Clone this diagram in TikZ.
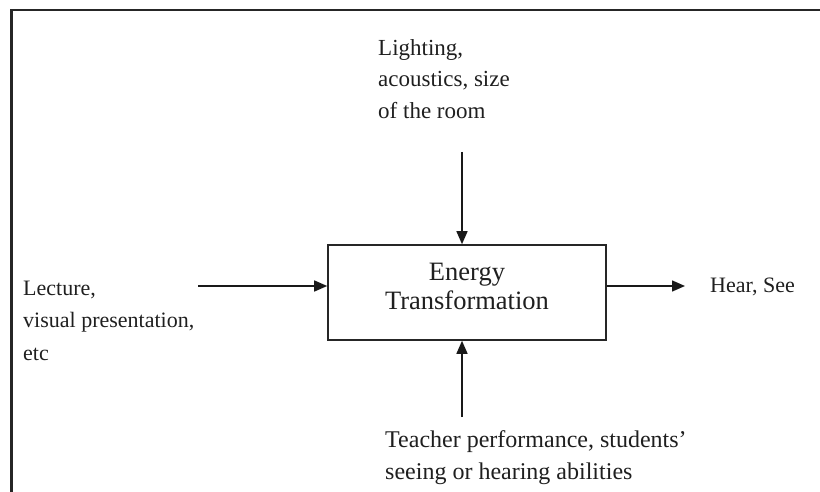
\documentclass[tikz,border=0pt]{standalone}
\usepackage{fontspec}
\setmainfont{Liberation Serif}
\usetikzlibrary{arrows.meta}
\begin{document}
\begin{tikzpicture}[x=1pt,y=-1pt,
  txt/.style={font=\fontsize{#1}{32.5}\selectfont, inner sep=0pt, align=left, text=black!88},
  txt/.default=26.5,
  box/.style={draw=black!85, line width=1.6pt, minimum width=278pt, minimum height=95pt, inner sep=0pt},
  arr/.style={draw=black!90, line width=1.5pt, -{Triangle[length=13pt,width=11pt]}},
  frame/.style={draw=black!85, line width=2.5pt}
]
\useasboundingbox (0,0) rectangle (820,492);
% outer frame (right and bottom edges cut off)
\draw[frame] (11.5,500) -- (11.5,10) -- (830,10);

% central box
\node[box] (et) at (467,292.5) {};
\node[txt, align=center, anchor=north] (etlabel) at (467,262.5) {Energy\\[-3.5pt]Transformation};

% texts
\node[txt=23, anchor=north west] (env) at (378,39.3) {Lighting,\\[-1pt]acoustics, size\\[-1pt]of the room};
\node[txt=22, anchor=north west] (input) at (23,280.4) {Lecture,\\visual presentation,\\etc};
\node[txt=22, anchor=base west] (output) at (710,292) {Hear, See};
\node[txt=24, anchor=north west] (human) at (385,430.6) {Teacher performance, students’\\[-0.5pt]seeing or hearing abilities};

% connectors
\coordinate (topstart) at (462,152);
\coordinate (botstart) at (462,417);
\coordinate (lstart) at (198,286);
\coordinate (rend) at (685,286);
\draw[arr] (topstart) -- (topstart |- et.north);
\draw[arr] (botstart) -- (botstart |- et.south);
\draw[arr] (lstart) -- (lstart -| et.west);
\draw[arr] (et.east |- rend) -- (rend);
\end{tikzpicture}
\end{document}
